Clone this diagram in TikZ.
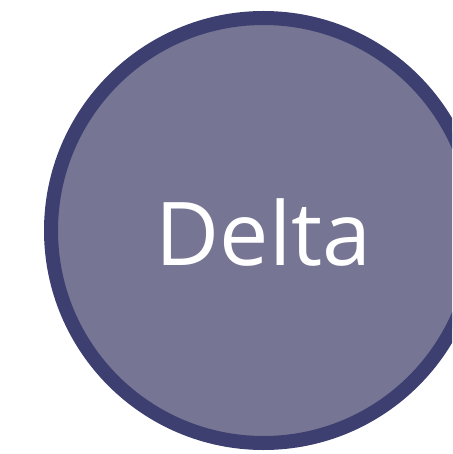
\documentclass[tikz,border=0pt]{standalone}
\usepackage{fontspec}
\setmainfont{Open Sans}
\definecolor{deltafill}{RGB}{119,117,148}
\definecolor{deltaedge}{RGB}{60,63,112}

\begin{document}
\begin{tikzpicture}[x=1pt,y=-1pt,
    deltanode/.style={circle,draw=deltaedge,fill=deltafill,line width=14pt,
        inner sep=0pt,minimum size=425pt}]
    % 画布大小
    \useasboundingbox (0,0) rectangle (452,454);
    \clip (0,0) rectangle (452,454);

    % 圆心位置
    \coordinate (Dc) at (263.5,230.5);

    % 圆与文字
    \node[deltanode] (delta) at (Dc) {};
    \node[text=white,font=\fontsize{88}{88}\selectfont,inner sep=0pt,anchor=base] (label) at (263.5,265) {Delta};

\end{tikzpicture}
\end{document}
